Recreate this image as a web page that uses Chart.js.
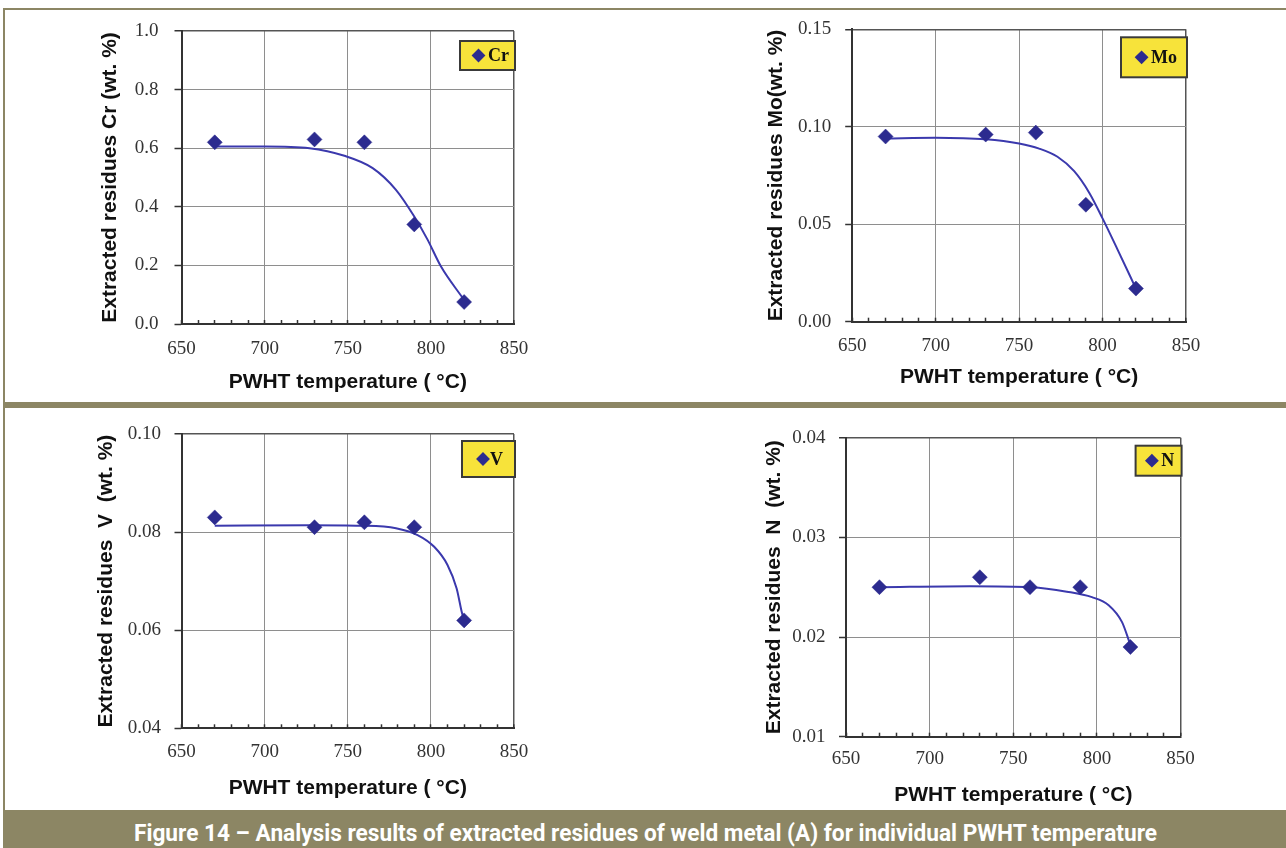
<!DOCTYPE html>
<html><head><meta charset="utf-8">
<script src="https://cdn.jsdelivr.net/npm/chart.js@4.4.0/dist/chart.umd.min.js"></script>
<style>
html,body{margin:0;padding:0;background:#fff;width:1286px;height:848px;overflow:hidden;}
body{position:relative;}
.frame{position:absolute;background:#8c8664;}
canvas{position:absolute;}
#caption{position:absolute;left:3px;top:810px;width:1283px;height:38px;background:#8c8664;overflow:hidden;}
#captxt{position:absolute;left:0;top:11px;white-space:nowrap;color:#fff;font-weight:bold;font-size:24px;line-height:24px;font-family:"Liberation Sans Narrow","Roboto","Liberation Sans",sans-serif;transform-origin:0 0;}
</style></head><body>
<div class="frame" style="left:3px;top:8px;width:1283px;height:2px"></div>
<div class="frame" style="left:3px;top:8px;width:2px;height:802px"></div>
<div class="frame" style="left:3px;top:402px;width:1283px;height:6px"></div>
<div id="caption"><span id="captxt">Figure 14 – Analysis results of extracted residues of weld metal (A) for individual PWHT temperature</span></div>
<canvas id="cCr" width="635" height="402" style="left:5px;top:0px"></canvas>
<canvas id="cMo" width="646" height="402" style="left:640px;top:0px"></canvas>
<canvas id="cV" width="635" height="402" style="left:5px;top:408px"></canvas>
<canvas id="cN" width="646" height="402" style="left:640px;top:408px"></canvas>
<script>
// ---- data ----
const temps = [670, 730, 760, 790, 820];
const crValues = [0.62, 0.63, 0.62, 0.34, 0.075];
const moValues = [0.095, 0.096, 0.097, 0.060, 0.017];
const vValues  = [0.083, 0.081, 0.082, 0.081, 0.062];
const nValues  = [0.025, 0.026, 0.025, 0.025, 0.019];

// fitted trend curves
const crCurveT = [670, 700, 727, 748, 765, 779, 790, 798, 806, 820];
const crCurveV = [0.606, 0.606, 0.600, 0.574, 0.532, 0.458, 0.367, 0.288, 0.197, 0.082];
const moCurveT = [670, 700, 730, 750, 762, 773, 783, 792, 800, 809, 820];
const moCurveV = [0.094, 0.0944, 0.0936, 0.0914, 0.0888, 0.0846, 0.0772, 0.0662, 0.0530, 0.0370, 0.017];
const vCurveT  = [670, 727, 758, 779, 792, 802, 810, 815.5, 818.5, 820];
const vCurveV  = [0.0813, 0.0814, 0.0813, 0.0808, 0.0794, 0.077, 0.0733, 0.0685, 0.0638, 0.0619];
const nCurveT  = [670, 724, 761, 782, 797, 807, 815, 820];
const nCurveV  = [0.0250, 0.0251, 0.0250, 0.02455, 0.0240, 0.0232, 0.0215, 0.0192];

const xTickLabels   = ['650', '700', '750', '800', '850'];
const crYTickLabels = ['0.0', '0.2', '0.4', '0.6', '0.8', '1.0'];
const moYTickLabels = ['0.00', '0.05', '0.10', '0.15'];
const vYTickLabels  = ['0.04', '0.06', '0.08', '0.10'];
const nYTickLabels  = ['0.01', '0.02', '0.03', '0.04'];

const xTitle = 'PWHT temperature ( °C)';

// ---- styling ----
const MARK = '#2c2b8f';
const CURVE = '#3b39ad';
const GRID = '#8e8e8e';
const EDGE = '#555555';
const AXIS = '#333333';
const TICKFONT = {family: '"Liberation Serif", "Times New Roman", serif', size: 19};
const TITLEFONT = {family: '"Liberation Sans", Arial, sans-serif', size: 21, weight: 'bold'};

const boxLegend = {
  id: 'boxLegend',
  afterDatasetsDraw(chart, args, o) {
    const {ctx, chartArea} = chart;
    const ds = chart.data.datasets[0];
    const x = chartArea.right - o.w + 1, y = chartArea.top + o.dy;
    ctx.save();
    ctx.fillStyle = '#f7e33a';
    ctx.fillRect(x, y, o.w, o.h);
    ctx.lineWidth = 2;
    ctx.strokeStyle = '#3a3a3a';
    ctx.strokeRect(x, y, o.w, o.h);
    ctx.fillStyle = MARK; ctx.strokeStyle = MARK;
    Chart.helpers.drawPoint(ctx, {pointStyle: 'rectRot', radius: 5.5, borderWidth: 0.5}, x + o.mx, y + o.h / 2);
    ctx.fillStyle = '#111';
    ctx.font = 'bold 18px "Liberation Serif", "Times New Roman", serif';
    ctx.textBaseline = 'middle';
    ctx.textAlign = 'left';
    ctx.fillText(ds.label, x + o.tx, y + o.h / 2 + 1);
    ctx.restore();
  }
};

function makeChart(id, p) {
  const pts = temps.map((t, i) => ({x: t, y: p.values[i]}));
  const curve = p.curveT.map((t, i) => ({x: t, y: p.curveV[i]}));
  return new Chart(document.getElementById(id), {
    type: 'scatter',
    data: {
      datasets: [
        {label: p.label, data: pts, pointStyle: 'rectRot', pointRadius: 7.5,
         backgroundColor: MARK, borderColor: MARK, borderWidth: 0.5},
        {label: p.label + ' fit', data: curve, showLine: true, pointRadius: 0,
         borderColor: CURVE, borderWidth: 2, cubicInterpolationMode: 'monotone', fill: false}
      ]
    },
    options: {
      responsive: false, animation: false, devicePixelRatio: 1,
      layout: {padding: {left: 0, top: p.pt, right: p.pr, bottom: 0}},
      plugins: {legend: {display: false}, tooltip: {enabled: false}, boxLegend: p.legend},
      scales: {
        x: {
          type: 'linear', min: 650, max: 850,
          afterFit: s => { s.height = p.hx; },
          ticks: {stepSize: 10, autoSkip: false, maxRotation: 0, minRotation: 0, padding: p.xpad,
                  font: TICKFONT, color: AXIS,
                  callback: v => (Math.round(v) % 50 === 0 ? xTickLabels[Math.round((v - 650) / 50)] : '')},
          grid: {color: c => {
                   const v = Math.round(c.tick.value);
                   if (v === 850) return EDGE;
                   return v % 50 === 0 ? GRID : 'rgba(0,0,0,0)';
                 },
                 lineWidth: c => (Math.round(c.tick.value) === 850 ? 1.5 : 1),
                 tickLength: -4, tickColor: AXIS, tickWidth: 1.5},
          border: {color: AXIS, width: 2},
          title: {display: true, text: xTitle, font: TITLEFONT, color: '#111', padding: {top: 0, bottom: p.xtp}}
        },
        y: {
          min: p.ymin, max: p.ymax,
          afterFit: s => { s.width = p.wy; },
          ticks: {stepSize: p.ystep, padding: p.ypad, font: TICKFONT, color: AXIS,
                  callback: (v, i) => p.yLabels[i]},
          grid: {color: c => (c.index === c.scale.ticks.length - 1 ? EDGE : GRID),
                 lineWidth: c => (c.index === c.scale.ticks.length - 1 ? 1.5 : 1),
                 tickLength: 7, tickColor: AXIS, tickWidth: 1.5},
          border: {color: AXIS, width: 2},
          title: {display: true, text: p.yTitle, font: TITLEFONT, color: '#111', padding: {top: p.ytp, bottom: 0}}
        }
      }
    },
    plugins: [boxLegend]
  });
}

makeChart('cCr', {label: 'Cr', values: crValues, curveT: crCurveT, curveV: crCurveV,
  ymin: 0, ymax: 1.0, ystep: 0.2, yLabels: crYTickLabels, yTitle: 'Extracted residues Cr (wt. %)',
  pt: 31, pr: 126, wy: 176.5, hx: 78, ypad: 16, xpad: 17.6, ytp: 92.4, xtp: 6.9,
  legend: {w: 55, h: 29, dy: 10, mx: 18.5, tx: 28}});
makeChart('cMo', {label: 'Mo', values: moValues, curveT: moCurveT, curveV: moCurveV,
  ymin: 0, ymax: 0.15, ystep: 0.05, yLabels: moYTickLabels, yTitle: 'Extracted residues Mo(wt. %)',
  pt: 29.3, pr: 100, wy: 212.2, hx: 80.3, ypad: 14, xpad: 16.6, ytp: 123.4, xtp: 12.4,
  legend: {w: 66, h: 40, dy: 8, mx: 20.6, tx: 30}});
makeChart('cV', {label: 'V', values: vValues, curveT: vCurveT, curveV: vCurveV,
  ymin: 0.04, ymax: 0.10, ystep: 0.02, yLabels: vYTickLabels, yTitle: 'Extracted residues  V  (wt. %)',
  pt: 26, pr: 126, wy: 176.5, hx: 81.7, ypad: 13.5, xpad: 16.8, ytp: 88.4, xtp: 9.4,
  legend: {w: 53, h: 36, dy: 7, mx: 21, tx: 28}});
makeChart('cN', {label: 'N', values: nValues, curveT: nCurveT, curveV: nCurveV,
  ymin: 0.01, ymax: 0.04, ystep: 0.01, yLabels: nYTickLabels, yTitle: 'Extracted residues  N  (wt. %)',
  pt: 29.7, pr: 105.4, wy: 206, hx: 73.3, ypad: 13.6, xpad: 14.9, ytp: 121.4, xtp: 2.4,
  legend: {w: 46, h: 30, dy: 8, mx: 16.3, tx: 25.7}});

// fit caption text to the reference width
(function () {
  const t = document.getElementById('captxt');
  const w = t.getBoundingClientRect().width;
  const target = 1023;
  t.style.transform = 'scaleX(' + (target / w) + ')';
  t.style.left = (134 - 3) + 'px';
})();
</script>
</body></html>
